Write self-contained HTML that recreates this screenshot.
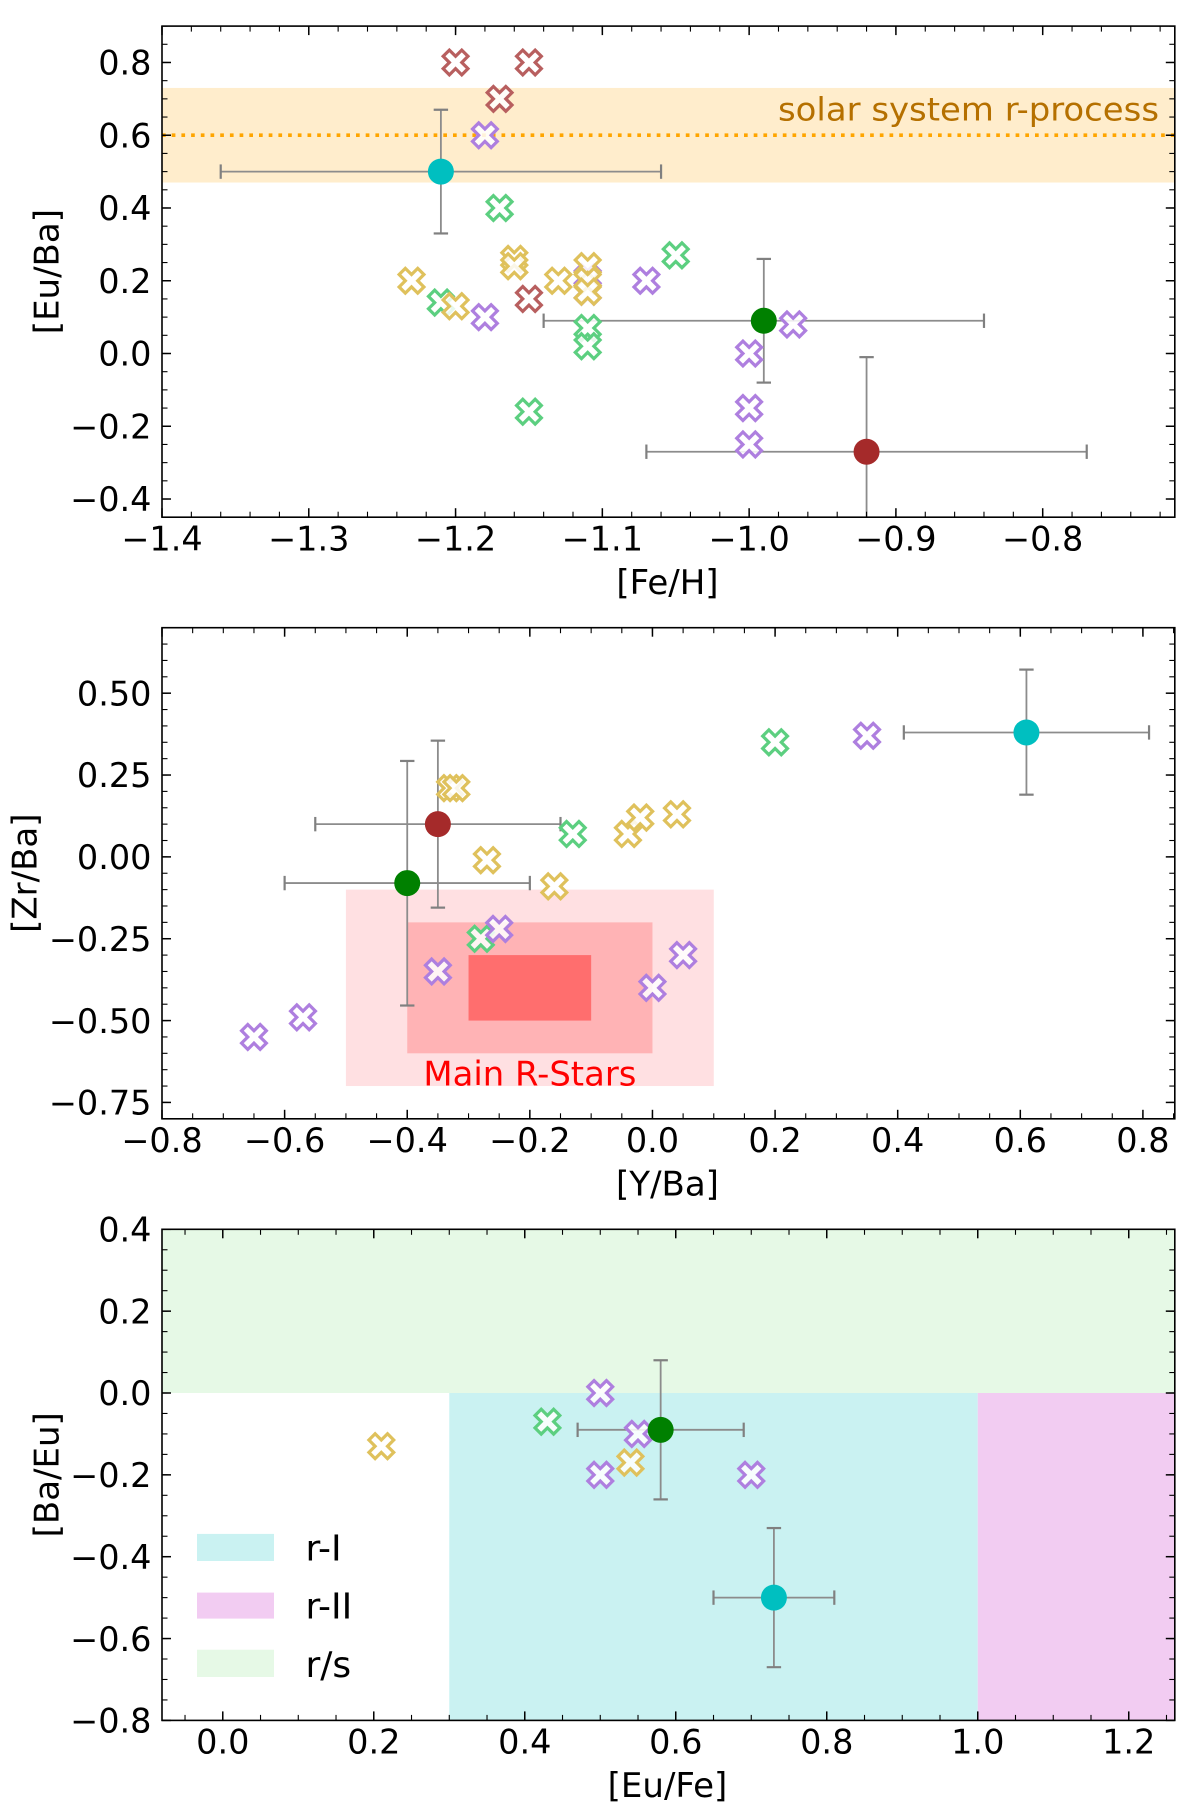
<!DOCTYPE html>
<html lang="en">
<head>
<meta charset="utf-8">
<title>Abundance ratio panels</title>
<style>
  html, body { margin: 0; padding: 0; background: #fff; width: 1200px; height: 1818px; overflow: hidden; }
  svg { display: block; }
  text { font-family: "DejaVu Sans", "Liberation Sans", sans-serif; fill: #000; }
</style>
</head>
<body>
<svg id="figure" xmlns="http://www.w3.org/2000/svg" width="1200" height="1818" viewBox="0 0 1200 1818">
  <defs>
    <clipPath id="clip-top"><rect x="162" y="26.1" width="1012.8" height="491.1"/></clipPath>
    <clipPath id="clip-mid"><rect x="162" y="627.7" width="1012.8" height="491.1"/></clipPath>
    <clipPath id="clip-bot"><rect x="162" y="1229.3" width="1012.8" height="491.1"/></clipPath>
  </defs>
  <g id="panel-top"></g>
  <g id="panel-mid"></g>
  <g id="panel-bot"></g>

  <text x="667.5" y="594" font-size="34" text-anchor="middle">[Fe/H]</text>
  <text transform="translate(58.5,271.6) rotate(-90)" font-size="34" text-anchor="middle">[Eu/Ba]</text>
  <text x="1159" y="120.6" font-size="32" text-anchor="end" textLength="381" lengthAdjust="spacingAndGlyphs" style="fill:#b57000">solar system r-process</text>

  <text x="667.5" y="1195.4" font-size="34" text-anchor="middle">[Y/Ba]</text>
  <text transform="translate(36.5,873.2) rotate(-90)" font-size="34" text-anchor="middle">[Zr/Ba]</text>
  <text x="423.4" y="1085.6" font-size="33.5" textLength="213" lengthAdjust="spacingAndGlyphs" style="fill:#ff0000">Main R-Stars</text>

  <text x="667.5" y="1797" font-size="34" text-anchor="middle">[Eu/Fe]</text>
  <text transform="translate(58.5,1474.8) rotate(-90)" font-size="34" text-anchor="middle">[Ba/Eu]</text>

  <g>
    <g>
      <rect x="197" y="1533.9" width="77" height="27.1" fill="#caf2f2"/>
      <text x="305.5" y="1560.7" font-size="36">r-I</text>
    </g>
    <g>
      <rect x="197" y="1592.6" width="77" height="26" fill="#f2ccf2"/>
      <text x="305.5" y="1618.6" font-size="36">r-II</text>
    </g>
    <g>
      <rect x="197" y="1649.7" width="77" height="27.3" fill="#e6f9e6"/>
      <text x="305.5" y="1677" font-size="36">r/s</text>
    </g>
  </g>
</svg>

<script>
/* ---------- top panel data: [Fe/H] vs [Eu/Ba] ---------- */
const topXTicks = [-1.4, -1.3, -1.2, -1.1, -1.0, -0.9, -0.8];
const topXTickLabels = ['\u22121.4', '\u22121.3', '\u22121.2', '\u22121.1', '\u22121.0', '\u22120.9', '\u22120.8'];
const topYTicks = [0.8, 0.6, 0.4, 0.2, 0.0, -0.2, -0.4];
const topYTickLabels = ['0.8', '0.6', '0.4', '0.2', '0.0', '\u22120.2', '\u22120.4'];
const topBrownX = [-1.2, -1.15, -1.17, -1.15];
const topBrownY = [0.8, 0.8, 0.7, 0.15];
const topGreenX = [-1.17, -1.21, -1.11, -1.11, -1.15, -1.05];
const topGreenY = [0.4, 0.14, 0.07, 0.02, -0.16, 0.27];
const topPurpleX = [-1.18, -1.18, -1.11, -1.11, -1.07, -0.97, -1.0, -1.0, -1.0];
const topPurpleY = [0.6, 0.1, 0.21, 0.17, 0.2, 0.08, 0.0, -0.15, -0.25];
const topYellowX = [-1.23, -1.2, -1.16, -1.16, -1.13, -1.11, -1.11, -1.11];
const topYellowY = [0.2, 0.13, 0.26, 0.24, 0.2, 0.24, 0.2, 0.17];
const topMeanNames = ['cyan', 'green', 'brown'];
const topMeanX = [-1.21, -0.99, -0.92];
const topMeanY = [0.5, 0.09, -0.27];
const topMeanXLow = [-1.36, -1.14, -1.07];
const topMeanXHigh = [-1.06, -0.84, -0.77];
const topMeanYLow = [0.33, -0.08, -0.53];
const topMeanYHigh = [0.67, 0.26, -0.01];
const topBandY = [0.47, 0.73];
const topSolarRatio = [0.6];

/* ---------- middle panel data: [Y/Ba] vs [Zr/Ba] ---------- */
const midXTicks = [-0.8, -0.6, -0.4, -0.2, 0.0, 0.2, 0.4, 0.6, 0.8];
const midXTickLabels = ['\u22120.8', '\u22120.6', '\u22120.4', '\u22120.2', '0.0', '0.2', '0.4', '0.6', '0.8'];
const midYTicks = [0.5, 0.25, 0.0, -0.25, -0.5, -0.75];
const midYTickLabels = ['0.50', '0.25', '0.00', '\u22120.25', '\u22120.50', '\u22120.75'];
const midBrownX = [];
const midBrownY = [];
const midGreenX = [-0.28, -0.13, 0.2];
const midGreenY = [-0.25, 0.07, 0.35];
const midPurpleX = [-0.65, -0.57, -0.35, -0.25, 0.0, 0.05, 0.35];
const midPurpleY = [-0.55, -0.49, -0.35, -0.22, -0.4, -0.3, 0.37];
const midYellowX = [-0.33, -0.32, -0.27, -0.16, -0.04, -0.02, 0.04];
const midYellowY = [0.21, 0.21, -0.01, -0.09, 0.07, 0.12, 0.13];
const midMeanNames = ['cyan', 'green', 'brown'];
const midMeanX = [0.61, -0.4, -0.35];
const midMeanY = [0.38, -0.08, 0.1];
const midMeanXLow = [0.41, -0.6, -0.55];
const midMeanXHigh = [0.81, -0.2, -0.15];
const midMeanYLow = [0.19, -0.454, -0.155];
const midMeanYHigh = [0.572, 0.293, 0.355];
const midBoxNames = ['outer', 'middle', 'inner'];
const midBoxXLow = [-0.5, -0.4, -0.3];
const midBoxXHigh = [0.1, 0.0, -0.1];
const midBoxYLow = [-0.7, -0.6, -0.5];
const midBoxYHigh = [-0.1, -0.2, -0.3];

/* ---------- bottom panel data: [Eu/Fe] vs [Ba/Eu] ---------- */
const botXTicks = [0.0, 0.2, 0.4, 0.6, 0.8, 1.0, 1.2];
const botXTickLabels = ['0.0', '0.2', '0.4', '0.6', '0.8', '1.0', '1.2'];
const botYTicks = [0.4, 0.2, 0.0, -0.2, -0.4, -0.6, -0.8];
const botYTickLabels = ['0.4', '0.2', '0.0', '\u22120.2', '\u22120.4', '\u22120.6', '\u22120.8'];
const botBrownX = [];
const botBrownY = [];
const botGreenX = [0.43];
const botGreenY = [-0.07];
const botPurpleX = [0.5, 0.5, 0.55, 0.7];
const botPurpleY = [0.0, -0.2, -0.1, -0.2];
const botYellowX = [0.21, 0.54];
const botYellowY = [-0.13, -0.17];
const botMeanNames = ['green', 'cyan'];
const botMeanX = [0.58, 0.73];
const botMeanY = [-0.09, -0.5];
const botMeanXLow = [0.47, 0.65];
const botMeanXHigh = [0.69, 0.81];
const botMeanYLow = [-0.26, -0.67];
const botMeanYHigh = [0.08, -0.33];
const botRegionNames = ['r-s', 'r-i', 'r-ii'];
const botRegionXLow = [-0.08, 0.3, 1.0];
const botRegionXHigh = [1.26, 1.0, 1.26];
const botRegionYLow = [0.0, -0.8, -0.8];
const botRegionYHigh = [0.4, 0.0, 0.0];

/* ---------- rendering ---------- */
const SVG_NS = 'http://www.w3.org/2000/svg';
const FRAME_LEFT = 162;
const FRAME_RIGHT = 1174.8;
const MEAN_COLORS = { cyan: '#00bfc0', green: '#008000', brown: '#a52a2a' };
const STAR_COLORS = { brown: '#b85f5f', green: '#5ccf80', purple: '#ae7fdf', yellow: '#dfc15c' };
const BOX_COLORS = { outer: '#ffe0e2', middle: '#ffb3b5', inner: '#ff6e6e' };
const REGION_COLORS = { 'r-s': '#e6f9e6', 'r-i': '#caf2f2', 'r-ii': '#f2ccf2' };
const STAR_SHAPE = [[-1, -2], [0, -1], [1, -2], [2, -1], [1, 0], [2, 1], [1, 2], [0, 1], [-1, 2], [-2, 1], [-1, 0], [-2, -1]];
const STAR_UNIT = 6.2;

function make(tag, attrs, parent) {
  const node = document.createElementNS(SVG_NS, tag);
  for (const key in attrs) node.setAttribute(key, attrs[key]);
  parent.appendChild(node);
  return node;
}
function scaleFor(lim, from, to) {
  return function (v) { return from + (v - lim[0]) / (lim[1] - lim[0]) * (to - from); };
}

function buildPanel(cfg) {
  const root = document.getElementById(cfg.id);
  const x = scaleFor(cfg.xLim, FRAME_LEFT, FRAME_RIGHT);
  const y = scaleFor(cfg.yLim, cfg.bottom, cfg.top);
  const plot = make('g', { 'clip-path': 'url(#' + cfg.clip + ')' }, root);
  
  

  if (cfg.decorate) cfg.decorate(plot, x, y);

  /* error bars */
  cfg.meanX.forEach(function (mx, i) {
    const group = make('g', { stroke: '#8c8c8c', 'stroke-width': 1.8, fill: 'none' }, plot);
    
    
    const px = x(mx), py = y(cfg.meanY[i]);
    const xl = x(cfg.meanXLow[i]), xh = x(cfg.meanXHigh[i]);
    const yl = y(cfg.meanYLow[i]), yh = y(cfg.meanYHigh[i]);
    make('line', { x1: xl, x2: xh, y1: py, y2: py }, group);
    make('line', { x1: px, x2: px, y1: yl, y2: yh }, group);
    [xl, xh].forEach(function (c) {
      make('line', { x1: c, x2: c, y1: py - 7.2, y2: py + 7.2, stroke: '#808080', 'stroke-width': 2.2 }, group);
    });
    [yl, yh].forEach(function (c) {
      make('line', { x1: px - 7.2, x2: px + 7.2, y1: c, y2: c, stroke: '#808080', 'stroke-width': 2.2 }, group);
    });
  });

  /* open X star markers */
  cfg.stars.forEach(function (series) {
    series.xs.forEach(function (sx, i) {
      const cx = x(sx), cy = y(series.ys[i]);
      const pts = STAR_SHAPE.map(function (p) {
        return (cx + p[0] * STAR_UNIT).toFixed(2) + ',' + (cy + p[1] * STAR_UNIT).toFixed(2);
      }).join(' ');
      const star = make('polygon', {
        points: pts, fill: '#ffffff', 'fill-opacity': 0.85,
        stroke: STAR_COLORS[series.name], 'stroke-width': 3.2, 'stroke-linejoin': 'miter'
      }, plot);
      
      
    });
  });

  /* mean points */
  cfg.meanX.forEach(function (mx, i) {
    const dot = make('circle', { cx: x(mx), cy: y(cfg.meanY[i]), r: 13, fill: MEAN_COLORS[cfg.meanNames[i]] }, plot);
    
    
  });

  /* ticks */
  const ticks = make('g', { stroke: '#000', fill: 'none' }, root);
  
  
  const MAJOR = 9, MINOR = 5.5;
  function xTick(px, len, w) {
    make('line', { x1: px, x2: px, y1: cfg.bottom, y2: cfg.bottom - len, 'stroke-width': w }, ticks);
    make('line', { x1: px, x2: px, y1: cfg.top, y2: cfg.top + len, 'stroke-width': w }, ticks);
  }
  function yTick(py, len, w) {
    make('line', { x1: FRAME_LEFT, x2: FRAME_LEFT + len, y1: py, y2: py, 'stroke-width': w }, ticks);
    make('line', { x1: FRAME_RIGHT, x2: FRAME_RIGHT - len, y1: py, y2: py, 'stroke-width': w }, ticks);
  }
  for (let k = Math.ceil(cfg.xLim[0] / cfg.xMinor - 1e-6); k * cfg.xMinor <= cfg.xLim[1] + 1e-9; k++) {
    xTick(x(k * cfg.xMinor), MINOR, 1.1);
  }
  for (let k = Math.ceil(cfg.yLim[0] / cfg.yMinor - 1e-6); k * cfg.yMinor <= cfg.yLim[1] + 1e-9; k++) {
    yTick(y(k * cfg.yMinor), MINOR, 1.1);
  }
  cfg.xTicks.forEach(function (v) { xTick(x(v), MAJOR, 1.5); });
  cfg.yTicks.forEach(function (v) { yTick(y(v), MAJOR, 1.5); });

  /* tick labels */
  cfg.xTicks.forEach(function (v, i) {
    const label = make('text', { x: x(v), y: cfg.bottom + 33.2, 'font-size': 33.5, 'text-anchor': 'middle' }, root);
    label.textContent = cfg.xLabels[i];
    
    
  });
  cfg.yTicks.forEach(function (v, i) {
    const label = make('text', { x: 151.5, y: y(v) + 12.2, 'font-size': 33.5, 'text-anchor': 'end' }, root);
    label.textContent = cfg.yLabels[i];
    
    
  });

  /* frame */
  const frame = make('rect', {
    x: FRAME_LEFT, y: cfg.top, width: FRAME_RIGHT - FRAME_LEFT, height: cfg.bottom - cfg.top,
    fill: 'none', stroke: '#000', 'stroke-width': 1.6
  }, root);
  
  
}

buildPanel({
  id: 'panel-top', key: 'top', clip: 'clip-top', top: 26.1, bottom: 517.2,
  xLim: [-1.4, -0.71], yLim: [-0.45, 0.9], xMinor: 0.02, yMinor: 0.05,
  xTicks: topXTicks, xLabels: topXTickLabels, yTicks: topYTicks, yLabels: topYTickLabels,
  meanNames: topMeanNames, meanX: topMeanX, meanY: topMeanY,
  meanXLow: topMeanXLow, meanXHigh: topMeanXHigh, meanYLow: topMeanYLow, meanYHigh: topMeanYHigh,
  stars: [
    { name: 'brown', xs: topBrownX, ys: topBrownY },
    { name: 'green', xs: topGreenX, ys: topGreenY },
    { name: 'purple', xs: topPurpleX, ys: topPurpleY },
    { name: 'yellow', xs: topYellowX, ys: topYellowY }
  ],
  decorate: function (plot, x, y) {
    const band = make('rect', {
      x: x(-1.4), width: x(-0.71) - x(-1.4), y: y(topBandY[1]), height: y(topBandY[0]) - y(topBandY[1]), fill: '#ffedcc'
    }, plot);
    
    
    const solar = make('line', {
      x1: x(-1.4), x2: x(-0.71), y1: y(topSolarRatio[0]), y2: y(topSolarRatio[0]),
      stroke: '#ffa500', 'stroke-width': 3.6, 'stroke-dasharray': '3.7 6'
    }, plot);
    
    
  }
});

buildPanel({
  id: 'panel-mid', key: 'mid', clip: 'clip-mid', top: 627.7, bottom: 1118.8,
  xLim: [-0.8, 0.852], yLim: [-0.8, 0.7], xMinor: 0.05, yMinor: 0.05,
  xTicks: midXTicks, xLabels: midXTickLabels, yTicks: midYTicks, yLabels: midYTickLabels,
  meanNames: midMeanNames, meanX: midMeanX, meanY: midMeanY,
  meanXLow: midMeanXLow, meanXHigh: midMeanXHigh, meanYLow: midMeanYLow, meanYHigh: midMeanYHigh,
  stars: [
    { name: 'brown', xs: midBrownX, ys: midBrownY },
    { name: 'green', xs: midGreenX, ys: midGreenY },
    { name: 'purple', xs: midPurpleX, ys: midPurpleY },
    { name: 'yellow', xs: midYellowX, ys: midYellowY }
  ],
  decorate: function (plot, x, y) {
    midBoxNames.forEach(function (name, i) {
      const box = make('rect', {
        x: x(midBoxXLow[i]), width: x(midBoxXHigh[i]) - x(midBoxXLow[i]),
        y: y(midBoxYHigh[i]), height: y(midBoxYLow[i]) - y(midBoxYHigh[i]), fill: BOX_COLORS[name]
      }, plot);
      
      
    });
  }
});

buildPanel({
  id: 'panel-bot', key: 'bot', clip: 'clip-bot', top: 1229.3, bottom: 1720.4,
  xLim: [-0.0805, 1.261], yLim: [-0.8, 0.4], xMinor: 0.05, yMinor: 0.05,
  xTicks: botXTicks, xLabels: botXTickLabels, yTicks: botYTicks, yLabels: botYTickLabels,
  meanNames: botMeanNames, meanX: botMeanX, meanY: botMeanY,
  meanXLow: botMeanXLow, meanXHigh: botMeanXHigh, meanYLow: botMeanYLow, meanYHigh: botMeanYHigh,
  stars: [
    { name: 'brown', xs: botBrownX, ys: botBrownY },
    { name: 'green', xs: botGreenX, ys: botGreenY },
    { name: 'purple', xs: botPurpleX, ys: botPurpleY },
    { name: 'yellow', xs: botYellowX, ys: botYellowY }
  ],
  decorate: function (plot, x, y) {
    botRegionNames.forEach(function (name, i) {
      const region = make('rect', {
        x: x(botRegionXLow[i]), width: x(botRegionXHigh[i]) - x(botRegionXLow[i]),
        y: y(botRegionYHigh[i]), height: y(botRegionYLow[i]) - y(botRegionYHigh[i]), fill: REGION_COLORS[name]
      }, plot);
      
      
    });
  }
});
</script>
</body>
</html>
